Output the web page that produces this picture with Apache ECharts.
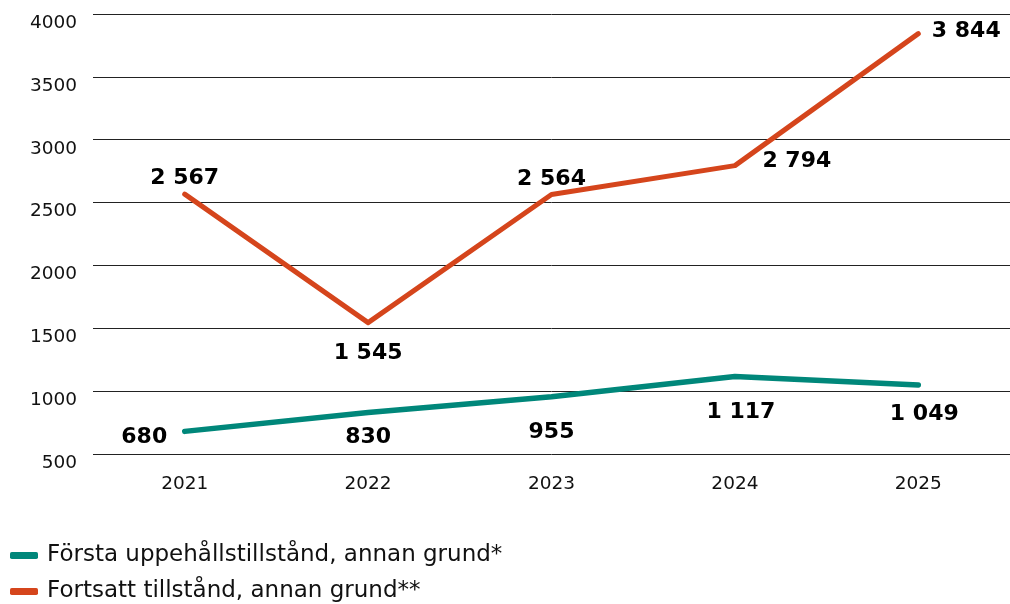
<!DOCTYPE html>
<html><head><meta charset="utf-8">
<script src="https://cdn.jsdelivr.net/npm/echarts@6/dist/echarts.min.js"></script>
<style>html,body{margin:0;padding:0;background:#fff}#c{width:1010px;height:604px}</style>
</head><body><div id="c"></div>
<script>
const categories = ['2021','2022','2023','2024','2025'];
const forsta = [680, 830, 955, 1117, 1049];
const fortsatt = [2567, 1545, 2564, 2794, 3844];
const seriesNames = ['Första uppehållstillstånd, annan grund*', 'Fortsatt tillstånd, annan grund**'];
const yTicks = [500, 4000, 500]; // min, max, interval

const FONT = '"DejaVu Sans", Verdana, sans-serif';
const fmt = v => String(v).replace(/\B(?=(\d{3})+(?!\d))/g, ' ');
const labelBase = {show: true, fontFamily: FONT, fontWeight: 'bold', fontSize: 22, color: '#000', formatter: p => fmt(p.value)};
const legendBase = {orient: 'vertical', left: 10, itemWidth: 28, itemHeight: 7, icon: 'roundRect', padding: 0,
  textStyle: {fontFamily: FONT, fontSize: 23, color: '#111', padding: [0, 0, 0, 4]}};

// per-point label tweaks (layout only)
const forstaLabel = [
  {position: 'left', distance: 16, offset: [0, 6]},
  {position: 'bottom', distance: 12, offset: [0, 0]},
  {position: 'bottom', distance: 23, offset: [0, 0]},
  {position: 'bottom', distance: 23, offset: [6, 0]},
  {position: 'bottom', distance: 17, offset: [6, 0]}
];
const fortsattLabel = [
  {position: 'top', distance: 3},
  {position: 'bottom', distance: 18},
  {position: 'top', distance: 3},
  {position: 'right', distance: 26, offset: [0, -4]},
  {position: 'right', distance: 12, offset: [0, -2]}
];

const chart = echarts.init(document.getElementById('c'), null, {renderer: 'canvas'});
chart.setOption({
  animation: false,
  grid: {left: 93, right: 0, top: 14, bottom: 150, containLabel: false},
  legend: [
    Object.assign({}, legendBase, {top: 544, data: [seriesNames[0]]}),
    Object.assign({}, legendBase, {top: 580, data: [seriesNames[1]]})
  ],
  xAxis: {
    type: 'category', data: categories, boundaryGap: true,
    axisLine: {show: false}, axisTick: {show: false},
    axisLabel: {fontFamily: FONT, fontSize: 18.5, color: '#111', margin: 21}
  },
  yAxis: {
    type: 'value', min: yTicks[0], max: yTicks[1], interval: yTicks[2],
    axisLine: {show: false}, axisTick: {show: false},
    splitLine: {lineStyle: {color: '#222', width: 1}},
    axisLabel: {fontFamily: FONT, fontSize: 18.5, color: '#111', margin: 16, verticalAlign: 'top', lineHeight: 18,
      formatter: v => String(v)}
  },
  series: [
    {
      name: seriesNames[0], type: 'line', symbol: 'circle', symbolSize: 3, showSymbol: true,
      lineStyle: {color: '#00877a', width: 5.5, cap: 'round', join: 'round'},
      itemStyle: {color: '#00877a'},
      label: labelBase,
      data: forsta.map((v, i) => ({value: v, label: forstaLabel[i]}))
    },
    {
      name: seriesNames[1], type: 'line', symbol: 'circle', symbolSize: 3, showSymbol: true,
      lineStyle: {color: '#d5451c', width: 5, cap: 'round', join: 'round'},
      itemStyle: {color: '#d5451c'},
      label: labelBase,
      data: fortsatt.map((v, i) => ({value: v, label: fortsattLabel[i]}))
    }
  ]
});
</script></body></html>
